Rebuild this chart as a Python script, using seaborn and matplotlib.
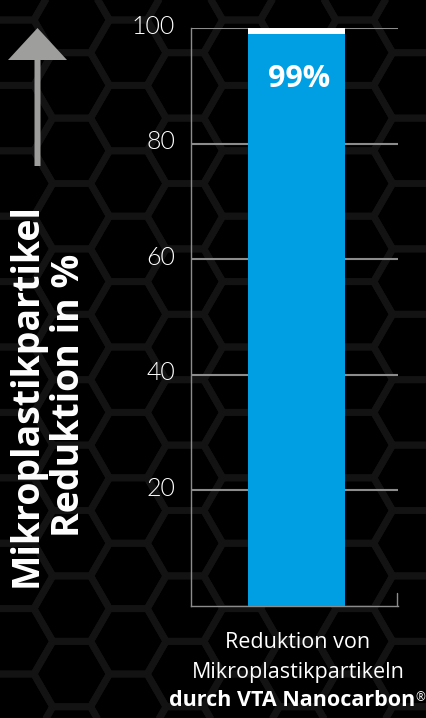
import numpy as np
import pandas as pd
import matplotlib
matplotlib.use("Agg")
import matplotlib.pyplot as plt
from matplotlib.patches import RegularPolygon, Polygon
from matplotlib.transforms import ScaledTranslation
import seaborn as sns

# --- data -------------------------------------------------------------
categories = ["VTA Nanocarbon"]
reduction = [99]          # percent of microplastic particles removed
scale_max = [100]         # full scale of the bar
y_ticks = [20, 40, 60, 80, 100]
y_tick_labels = ["20", "40", "60", "80", "100"]

# --- style ------------------------------------------------------------
W, H = 426, 718
BLUE = "#009FE3"
GRID = "#8c8c8c"
HEX = "#131313"
ARROW = "#9e9f9d"

sns.set_theme(style="white")
plt.rcParams["font.family"] = ["Open Sans", "DejaVu Sans"]

fig = plt.figure(figsize=(W / 100, H / 100), dpi=100, facecolor="black")

# background layer in pixel units (y grows downwards)
bg = fig.add_axes([0, 0, 1, 1], zorder=-5)
bg.set_xlim(0, W)
bg.set_ylim(H, 0)
bg.axis("off")

# honeycomb pattern
side = 37.76
half_h = np.sqrt(3) * side / 2
col_step = 1.5 * side
for k in range(-1, 10):
    cx = 411.5 - col_step * k
    for j in range(-3, 50):
        if (j - k) % 2:
            continue
        cy = 20 + half_h * j
        if cy > H + 2 * half_h:
            break
        bg.add_patch(RegularPolygon((cx, cy), 6, radius=side,
                                    orientation=np.pi / 6, fill=False,
                                    ec=HEX, lw=5.0))

# upward arrow beside the axis title
arrow_pts = [(34.5, 166), (34.5, 60), (8, 60), (37.5, 28),
             (67, 60), (40.5, 60), (40.5, 166)]
bg.add_patch(Polygon(arrow_pts, closed=True, fc=ARROW, ec="none"))

# --- chart ------------------------------------------------------------
ax = fig.add_axes([191 / W, (H - 606) / H, 207 / W, 578 / H])
ax.patch.set_alpha(0)

df = pd.DataFrame({"kategorie": categories,
                   "reduktion": reduction,
                   "skala": scale_max})
sns.barplot(data=df, x="kategorie", y="skala", color="white",
            width=0.47, saturation=1, linewidth=0, ax=ax, zorder=3)
sns.barplot(data=df, x="kategorie", y="reduktion", color=BLUE,
            width=0.47, saturation=1, linewidth=0, ax=ax, zorder=4)

ax.set_ylim(0, 100)
ax.set_xlim(-0.51, 0.49)
ax.set_xlabel("")
ax.set_ylabel("")
ax.set_xticks([])
ax.set_yticks(y_ticks, labels=y_tick_labels)
ax.yaxis.grid(True, color=GRID, lw=1.5)
ax.set_axisbelow(True)
ax.tick_params(axis="y", length=0, pad=11.5, labelcolor="white")
offset = ScaledTranslation(0, 4 / 100, fig.dpi_scale_trans)
for lbl in ax.get_yticklabels():
    lbl.set_fontfamily(["Lato", "DejaVu Sans"])
    lbl.set_fontweight(300)
    lbl.set_fontsize(18)
    lbl.set_color("white")
    lbl.set_transform(lbl.get_transform() + offset)

for side_name in ("top", "right"):
    ax.spines[side_name].set_visible(False)
for side_name in ("left", "bottom"):
    ax.spines[side_name].set_color(GRID)
    ax.spines[side_name].set_linewidth(1.0)
# small end mark on the baseline
ax.plot([0.995, 0.995], [0, 0.022], transform=ax.transAxes,
        color=GRID, lw=1.0, clip_on=False)

# value label inside the bar
ax.text(0.01, reduction[0] - 7.8, f"{reduction[0]}%", ha="center", va="center",
        color="white", fontsize=22, fontweight="bold", zorder=10)

# axis title
fig.text(48 / W, 1 - 395 / H, "Mikroplastikpartikel\nReduktion in %",
         rotation=90, ha="center", va="center", ma="center",
         fontsize=27, fontweight="bold", color="white", linespacing=1.15)

# category caption under the bar
cx = 298 / W
fig.text(cx, 1 - 648 / H, "Reduktion von", ha="center", va="baseline",
         color="white", fontsize=15.5)
fig.text(cx, 1 - 678 / H, "Mikroplastikpartikeln", ha="center",
         va="baseline", color="white", fontsize=15.5)
line3 = fig.text(cx - 6 / W, 1 - 706 / H, "durch VTA Nanocarbon", ha="center",
                 va="baseline", color="white", fontsize=15.5,
                 fontweight="bold")
ax.annotate("®", xy=(1, 1), xycoords=line3, xytext=(0.5, -1),
            textcoords="offset points", ha="left", va="top",
            color="white", fontsize=8.5, annotation_clip=False)

fig.savefig("out.png", dpi=100, facecolor="black")
